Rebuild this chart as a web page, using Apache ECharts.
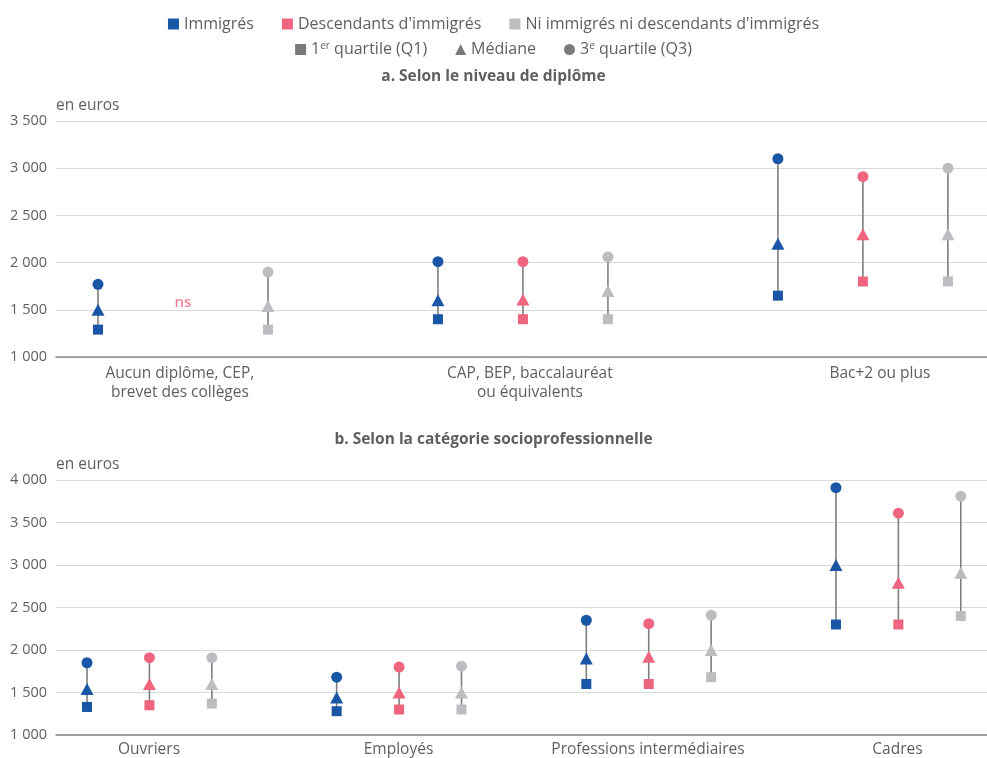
<!DOCTYPE html>
<html>
<head>
<meta charset="utf-8">
<script src="https://cdn.jsdelivr.net/npm/echarts@6/dist/echarts.min.js"></script>
<style>
  html, body { margin: 0; padding: 0; background: #fff; }
  #main { width: 987px; height: 758px; }
</style>
</head>
<body>
<div id="main"></div>
<script>
var groups = ['Immigrés', 'Descendants d\'immigrés', 'Ni immigrés ni descendants d\'immigrés'];
var groupColors = ['#1957a6', '#ef6580', '#bdbdc1'];
var stats = ['1er quartile (Q1)', 'Médiane', '3e quartile (Q3)'];

// a. niveau de diplôme
var catsA = ['Aucun diplôme, CEP,\nbrevet des collèges', 'CAP, BEP, baccalauréat\nou équivalents', 'Bac+2 ou plus'];
var q1A = [[1290, null, 1290], [1400, 1400, 1400], [1650, 1800, 1800]];
var medA = [[1500, null, 1540], [1600, 1610, 1700], [2200, 2300, 2300]];
var q3A = [[1770, null, 1900], [2010, 2010, 2060], [3100, 2910, 3000]];
var nsA = [[null, 1570, null], [null, null, null], [null, null, null]];

// b. catégorie socioprofessionnelle
var catsB = ['Ouvriers', 'Employés', 'Professions intermédiaires', 'Cadres'];
var q1B = [[1330, 1350, 1370], [1280, 1300, 1300], [1600, 1600, 1680], [2300, 2300, 2400]];
var medB = [[1540, 1600, 1600], [1440, 1500, 1500], [1900, 1920, 2000], [3000, 2790, 2910]];
var q3B = [[1850, 1910, 1910], [1680, 1800, 1810], [2350, 2310, 2410], [3910, 3610, 3810]];

var fontFamily = '"Open Sans", "Noto Sans", sans-serif';
var textColor = '#5f5f5f';

function thousands(v) {
  return String(v).replace(/\B(?=(\d{3})+(?!\d))/g, ' ');
}

function yAxisFor(gridIndex, min, max) {
  return {
    type: 'value', gridIndex: gridIndex, min: min, max: max, interval: 500,
    name: 'en euros', nameLocation: 'end', nameGap: 7,
    nameTextStyle: { align: 'left', color: textColor, fontSize: 15.5, fontFamily: fontFamily },
    axisLine: { show: false, onZero: false }, axisTick: { show: false },
    axisLabel: { color: textColor, fontSize: 14.5, fontFamily: fontFamily, margin: 9, formatter: thousands },
    splitLine: { lineStyle: { color: '#d9d9d9', width: 1 } }
  };
}

// slot position of a point: group index * 4 + offset of the population
function pos(i, j) { return i * 4 + j; }

var series = [];
var xAxes = [];

function addPanel(gridIndex, xIndex, q1, med, q3, slotMin, slotMax) {
  groups.forEach(function (g, j) {
    var lines = [], sq = [], tri = [], cir = [];
    q1.forEach(function (row, i) {
      var x = pos(i, j);
      if (row[j] != null) {
        lines.push([x, q1[i][j], q3[i][j]]);
        sq.push([x, q1[i][j]]);
        tri.push([x, med[i][j]]);
        cir.push([x, q3[i][j]]);
      }
    });
    series.push({
      type: 'custom', name: g, xAxisIndex: xIndex, yAxisIndex: gridIndex, z: 1,
      data: lines, silent: true, itemStyle: { color: groupColors[j] },
      renderItem: function (params, api) {
        var a = api.coord([api.value(0), api.value(1)]);
        var b = api.coord([api.value(0), api.value(2)]);
        return { type: 'line', shape: { x1: a[0], y1: a[1], x2: b[0], y2: b[1] },
          style: { stroke: '#7f7f7f', lineWidth: 1.6 } };
      }
    });
    series.push({ type: 'scatter', name: g, xAxisIndex: xIndex, yAxisIndex: gridIndex, z: 3,
      symbol: 'rect', symbolSize: 10, data: sq, itemStyle: { color: groupColors[j], opacity: 1 } });
    series.push({ type: 'scatter', name: g, xAxisIndex: xIndex, yAxisIndex: gridIndex, z: 3,
      symbol: 'triangle', symbolSize: [13, 12], data: tri, itemStyle: { color: groupColors[j], opacity: 1 } });
    series.push({ type: 'scatter', name: g, xAxisIndex: xIndex, yAxisIndex: gridIndex, z: 3,
      symbol: 'circle', symbolSize: 11, data: cir, itemStyle: { color: groupColors[j], opacity: 1 } });
  });
  xAxes.push({
    type: 'value', gridIndex: gridIndex, min: slotMin, max: slotMax, show: false, position: 'bottom'
  });
}

// panel a: points (slots), then label axis
addPanel(0, 0, q1A, medA, q3A, -0.494, 10.46);
xAxes.push({
  type: 'value', gridIndex: 0, min: -0.354, max: 2.306, position: 'bottom',
  axisLine: { show: true, onZero: false, lineStyle: { color: '#8a8a8a', width: 1.6 } },
  axisTick: { show: false }, splitLine: { show: false },
  axisLabel: { customValues: [0, 1, 2], color: textColor, fontSize: 15.5, fontFamily: fontFamily,
    lineHeight: 19, margin: 7, formatter: function (v) { return catsA[Math.round(v)]; } }
});

// "ns" note for the missing group
series.push({
  type: 'scatter', name: 'ns', xAxisIndex: 0, yAxisIndex: 0, symbolSize: 0, silent: true,
  data: nsA.map(function (row, i) { return [pos(i, 1), row[1]]; }).filter(function (d) { return d[1] != null; }),
  label: { show: true, position: 'inside', formatter: 'ns', color: '#ef6580', fontWeight: 600,
    fontSize: 15, fontFamily: fontFamily }
});

// panel b
addPanel(1, 2, q1B, medB, q3B, -0.497, 14.42);
xAxes.push({
  type: 'value', gridIndex: 1, min: -0.373, max: 3.359, position: 'bottom',
  axisLine: { show: true, onZero: false, lineStyle: { color: '#8a8a8a', width: 1.6 } },
  axisTick: { show: false }, splitLine: { show: false },
  axisLabel: { customValues: [0, 1, 2, 3], color: textColor, fontSize: 15.5, fontFamily: fontFamily,
    margin: 7, formatter: function (v) { return catsB[Math.round(v)]; } }
});

// legend-only series for the marker shapes
var shapeIcons = ['rect', 'triangle', 'circle'];
stats.forEach(function (s, k) {
  series.push({ type: 'scatter', name: s, xAxisIndex: 0, yAxisIndex: 0, symbol: shapeIcons[k],
    data: [], itemStyle: { color: '#595959' } });
});

var legendText = { color: textColor, fontSize: 16, fontFamily: fontFamily,
  rich: { sup: { fontSize: 10, verticalAlign: 'top', color: textColor, fontFamily: fontFamily, padding: [0, 0, 7, 0] } } };

var option = {
  animation: false,
  backgroundColor: '#ffffff',
  title: [
    { text: 'a. Selon le niveau de diplôme', left: 'center', top: 64,
      textStyle: { color: textColor, fontSize: 15.5, fontWeight: 'bold', fontFamily: fontFamily } },
    { text: 'b. Selon la catégorie socioprofessionnelle', left: 'center', top: 427,
      textStyle: { color: textColor, fontSize: 15.5, fontWeight: 'bold', fontFamily: fontFamily } }
  ],
  legend: [
    { data: groups.map(function (g) { return { name: g, icon: 'rect' }; }),
      top: 11, left: 'center', itemWidth: 11, itemHeight: 11, itemGap: 28, selectedMode: false,
      textStyle: legendText },
    { data: stats.map(function (s, k) { return { name: s, icon: shapeIcons[k] }; }),
      top: 36, left: 'center', itemWidth: 11, itemHeight: 11, itemGap: 28, selectedMode: false,
      textStyle: legendText,
      formatter: function (n) {
        if (n.indexOf('1er') === 0) return '1{sup|er}' + n.slice(3);
        if (n.indexOf('3e') === 0) return '3{sup|e}' + n.slice(2);
        return n;
      } }
  ],
  grid: [
    { left: 56, right: 0, top: 121, bottom: 401 },
    { left: 56, right: 0, top: 480, bottom: 22 }
  ],
  xAxis: xAxes,
  yAxis: [yAxisFor(0, 1000, 3500), yAxisFor(1, 1000, 4000)],
  series: series
};

var myChart = echarts.init(document.getElementById('main'));
myChart.setOption(option);
</script>
</body>
</html>
